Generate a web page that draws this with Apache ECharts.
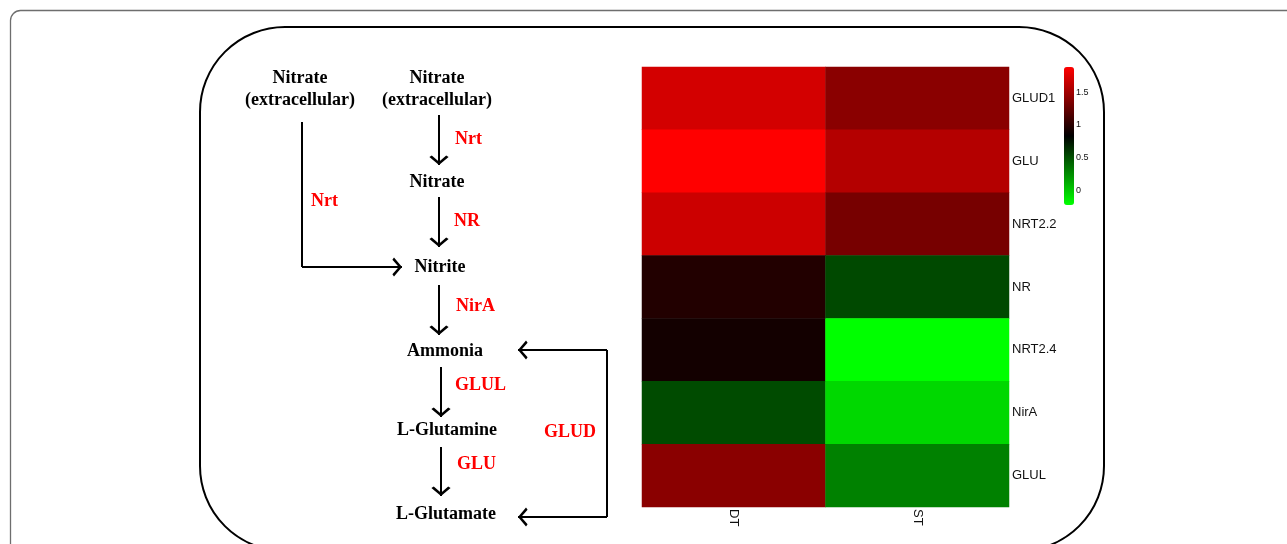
<!DOCTYPE html>
<html><head><meta charset="utf-8">
<script src="https://cdn.jsdelivr.net/npm/echarts@6/dist/echarts.min.js"></script>
<style>html,body{margin:0;padding:0;background:#fff}#c{width:1287px;height:544px}</style>
</head><body><div id="c"></div>
<script>
// ---- heatmap data ----
const samples = ['DT', 'ST'];
const genes = ['GLUD1', 'GLU', 'NRT2.2', 'NR', 'NRT2.4', 'NirA', 'GLUL'];
const dtValues = [1.87, 2.05, 1.84, 1.14, 1.08, 0.69, 1.57];
const stValues = [1.57, 1.74, 1.49, 0.70, -0.05, 0.11, 0.47];
const scaleTicks = [0, 0.5, 1, 1.5];
const scaleMin = -0.05;
const scaleMax = 2.05;

// ---- pathway diagram content ----
const metabolites = ['Nitrate\n(extracellular)', 'Nitrate\n(extracellular)', 'Nitrate', 'Nitrite', 'Ammonia', 'L-Glutamine', 'L-Glutamate'];
const enzymes = ['Nrt', 'Nrt', 'NR', 'NirA', 'GLUL', 'GLU', 'GLUD'];

// ---- diagram layout (diagram units) ----
const metabolitePos = [[300, 89], [437, 89], [437, 182], [440, 267], [445, 351], [447, 430], [446, 514]];
const enzymePos = [[311, 201], [455, 139], [454, 221], [456, 306], [455, 385], [457, 464], [544, 432]];
const plainSegments = [[[302, 122], [302, 267]], [[607, 350], [607, 517]]];
const arrowSegments = [
  [[439, 115], [439, 165]], [[439, 197], [439, 247]], [[302, 267], [402, 267]],
  [[439, 285], [439, 335]], [[441, 367], [441, 417]], [[441, 447], [441, 496]],
  [[607, 350], [518, 350]], [[607, 517], [518, 517]]
];

const heatData = [];
genes.forEach((g, i) => {
  heatData.push([0, i, dtValues[i]]);
  heatData.push([1, i, stValues[i]]);
});

const chevron = 'path://M6,-9.6 M6,0 L12,8 L10.5,9.6 L6,3.2 L1.5,9.6 L0,8 Z';
const serif = 'Liberation Serif';
const sans = 'Liberation Sans';

const textItem = {color: 'rgba(0,0,0,0)', opacity: 1};

const chart = echarts.init(document.getElementById('c'), null, {renderer: 'canvas'});
chart.setOption({
  animation: false,
  backgroundColor: '#fff',
  graphic: [
    {type: 'rect', silent: true, shape: {x: 10.5, y: 10.5, width: 1300, height: 570, r: 10},
     style: {fill: 'none', stroke: '#6e6e6e', lineWidth: 1.3}},
    {type: 'rect', silent: true, shape: {x: 200, y: 27, width: 904, height: 524, r: 85},
     style: {fill: 'none', stroke: '#000', lineWidth: 2}}
  ],
  grid: [
    {left: 642, top: 67, width: 367, height: 440},
    {left: 1064, top: 56, width: 10, height: 138},
    {left: 0, top: 0, width: 1287, height: 544}
  ],
  xAxis: [
    {gridIndex: 0, type: 'category', data: samples, axisLine: {show: false}, axisTick: {show: false},
     splitLine: {show: false},
     axisLabel: {rotate: -90, fontSize: 13, color: '#111', fontFamily: sans, margin: 2}},
    {gridIndex: 1, type: 'value', show: false},
    {gridIndex: 2, type: 'value', min: 0, max: 1287, show: false}
  ],
  yAxis: [
    {gridIndex: 0, type: 'category', data: genes, inverse: true, position: 'right',
     axisLine: {show: false}, axisTick: {show: false}, splitLine: {show: false},
     axisLabel: {fontSize: 13, color: '#111', fontFamily: sans, margin: 3}},
    {gridIndex: 1, type: 'value', min: scaleMin, max: scaleMax, position: 'right',
     axisLine: {show: false}, axisTick: {show: false}, splitLine: {show: false},
     axisLabel: {customValues: scaleTicks, fontSize: 9, color: '#111', fontFamily: sans, margin: 2,
       formatter: v => String(v)}},
    {gridIndex: 2, type: 'value', min: 0, max: 544, inverse: true, show: false}
  ],
  visualMap: {
    type: 'continuous', seriesIndex: 0, min: scaleMin, max: scaleMax, calculable: false,
    orient: 'vertical', left: 1064, top: 67, itemWidth: 10, itemHeight: 138, padding: 0,
    inRange: {color: ['#00ff00', '#000000', '#ff0000']}, hoverLink: false
  },
  series: [
    {type: 'heatmap', xAxisIndex: 0, yAxisIndex: 0, data: heatData, silent: true,
     itemStyle: {borderWidth: 0}, emphasis: {disabled: true}},
    {type: 'scatter', xAxisIndex: 1, yAxisIndex: 1, data: [], silent: true},
    {type: 'lines', coordinateSystem: 'cartesian2d', xAxisIndex: 2, yAxisIndex: 2, silent: true,
     data: plainSegments.map(c => ({coords: c})), symbol: ['none', 'none'],
     lineStyle: {color: '#000', width: 2, opacity: 1}, itemStyle: {color: '#000'}},
    {type: 'lines', coordinateSystem: 'cartesian2d', xAxisIndex: 2, yAxisIndex: 2, silent: true,
     data: arrowSegments.map(c => ({coords: c})), symbol: ['none', chevron], symbolSize: [12, 19.2],
     lineStyle: {color: '#000', width: 2, opacity: 1}, itemStyle: {color: '#000'}},
    {type: 'scatter', xAxisIndex: 2, yAxisIndex: 2, silent: true, symbolSize: 0.1,
     itemStyle: textItem,
     data: metabolites.map((m, i) => ({name: m, value: metabolitePos[i]})),
     label: {show: true, position: 'inside', formatter: '{b}', fontFamily: serif, fontWeight: 'bold',
       fontSize: 18, color: '#000', opacity: 1, lineHeight: 22}},
    {type: 'scatter', xAxisIndex: 2, yAxisIndex: 2, silent: true, symbolSize: 0.1,
     itemStyle: textItem,
     data: enzymes.map((m, i) => ({name: m, value: enzymePos[i]})),
     label: {show: true, position: 'right', distance: 0, formatter: '{b}', fontFamily: serif, fontWeight: 'bold',
       fontSize: 18, color: '#ff0000', opacity: 1}}
  ]
});
</script>
</body></html>
